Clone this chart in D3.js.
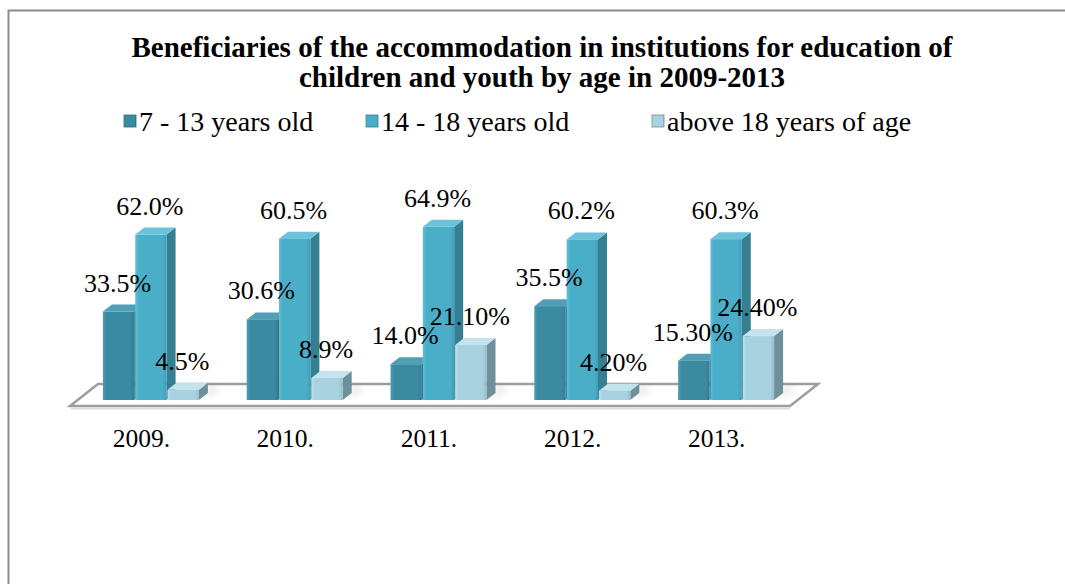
<!DOCTYPE html>
<html>
<head>
<meta charset="utf-8">
<script src="https://cdn.jsdelivr.net/npm/d3@7"></script>
<style>
  html, body { margin: 0; padding: 0; background: #fff; }
  svg { display: block; }
</style>
</head>
<body>
<svg id="chart" width="1065" height="584"></svg>
<script>
// Chart data
const years = ["2009.", "2010.", "2011.", "2012.", "2013."];
const seriesNames = ["7 - 13 years old", "14 - 18 years old", "above 18 years of age"];
const age7to13 = [33.5, 30.6, 14.0, 35.5, 15.3];
const age14to18 = [62.0, 60.5, 64.9, 60.2, 60.3];
const above18 = [4.5, 8.9, 21.1, 4.2, 24.4];
const valueLabels = [
  ["33.5%", "30.6%", "14.0%", "35.5%", "15.30%"],
  ["62.0%", "60.5%", "64.9%", "60.2%", "60.3%"],
  ["4.5%", "8.9%", "21.10%", "4.20%", "24.40%"]
];
const titleLines = [
  "Beneficiaries of the accommodation in institutions for education of",
  "children and youth by age in 2009-2013"
];

const seriesValues = [age7to13, age14to18, above18];
const palette = [
  { front: "#3a8aa1", light: "#4f9db3", top: "#509fb5", side: "#2c6b7c" },
  { front: "#4aaec8", light: "#63bdd5", top: "#6cc3d9", side: "#357f93" },
  { front: "#a8d2df", light: "#bfe0ea", top: "#c4e4ed", side: "#6e909b" }
];
const FONT = "'Liberation Serif', 'Times New Roman', Times, serif";

const svg = d3.select("#chart");
const defs = svg.append("defs");

palette.forEach((c, i) => {
  const g = defs.append("linearGradient").attr("id", "front" + i)
    .attr("x1", "0").attr("x2", "1").attr("y1", "0").attr("y2", "0");
  g.append("stop").attr("offset", "0").attr("stop-color", c.light);
  g.append("stop").attr("offset", "0.12").attr("stop-color", c.front);
  g.append("stop").attr("offset", "0.88").attr("stop-color", c.front);
  g.append("stop").attr("offset", "1").attr("stop-color", d3.color(c.front).darker(0.3));
});
defs.append("filter").attr("id", "soft").attr("x", "-50%").attr("y", "-50%")
  .attr("width", "200%").attr("height", "200%")
  .append("feGaussianBlur").attr("stdDeviation", 4);

// Outer frame
svg.append("rect")
  .attr("x", 8.5).attr("y", 10.5).attr("width", 1100).attr("height", 620)
  .attr("fill", "#fff").attr("stroke", "#8c8c8c").attr("stroke-width", 2);

// Title
svg.append("g").selectAll("text").data(titleLines).join("text")
  .attr("x", 542).attr("y", (d, i) => 57 + i * 30)
  .attr("text-anchor", "middle")
  .attr("font-family", FONT)
  .attr("font-size", 29).attr("font-weight", "bold")
  .text(d => d);

// Legend
const legendX = [124, 366, 652];
const legend = svg.append("g").selectAll("g").data(seriesNames).join("g")
  .attr("transform", (d, i) => `translate(${legendX[i]},0)`);
legend.append("rect")
  .attr("x", 0).attr("y", 115).attr("width", 12).attr("height", 12)
  .attr("fill", (d, i) => `url(#front${i})`)
  .attr("stroke", (d, i) => palette[i].side).attr("stroke-width", 0.8);
legend.append("text")
  .attr("x", 15).attr("y", 131)
  .attr("font-family", FONT)
  .attr("font-size", 28)
  .text(d => d);

// Scales
const depthX = 9, depthY = 7;
const baseY = 400;
const x = d3.scaleBand().domain(years).range([79, 798]);
const xs = d3.scaleBand().domain(d3.range(3)).range([-48, 48]).paddingInner(0.03);
const y = d3.scaleLinear().domain([0, 70]).range([402, 213]);

// Floor
const floorL = x.range()[0] - 9, floorR = x.range()[1] - 8;
const floorDX = 28, floorDY = 22;
const floorFront = 406;
svg.append("polygon")
  .attr("points", [
    [floorL, floorFront], [floorR, floorFront],
    [floorR + floorDX, floorFront - floorDY], [floorL + floorDX, floorFront - floorDY]
  ].map(p => p.join(",")).join(" "))
  .attr("fill", "#fff").attr("stroke", "#9d9d9d").attr("stroke-width", 2.5)
  .attr("stroke-linejoin", "miter");
svg.append("line")
  .attr("x1", floorL + 1).attr("x2", floorR).attr("y1", floorFront + 2.5).attr("y2", floorFront + 2.5)
  .attr("stroke", "#dcdcdc").attr("stroke-width", 2);

// Flattened bar records
const bars = [];
years.forEach((yr, gi) => {
  seriesValues.forEach((vals, si) => {
    bars.push({ year: yr, gi, si, value: vals[gi], label: valueLabels[si][gi] });
  });
});
const bx = d => x(d.year) + x.bandwidth() / 2 + xs(d.si);
const bw = xs.bandwidth();

// Soft floor shadows behind each bar
svg.append("g").selectAll("polygon").data(bars).join("polygon")
  .attr("points", d => {
    const x0 = bx(d) + bw - 2;
    return [[x0, baseY - 2], [x0 + depthX + 14, baseY - 10], [x0 + depthX + 6, baseY - depthY - 6], [x0 + depthX, baseY - depthY]]
      .map(p => p.join(",")).join(" ");
  })
  .attr("fill", "#000").attr("opacity", 0.18).attr("filter", "url(#soft)");

// 3D bars, drawn left to right so nearer faces overlap correctly
const barG = svg.append("g").selectAll("g").data(bars).join("g");
barG.append("polygon") // side face
  .attr("points", d => {
    const x1 = bx(d) + bw, t = y(d.value);
    return [[x1, t], [x1 + depthX, t - depthY], [x1 + depthX, baseY - depthY], [x1, baseY]]
      .map(p => p.join(",")).join(" ");
  })
  .attr("fill", d => palette[d.si].side);
barG.append("polygon") // top face
  .attr("points", d => {
    const x0 = bx(d), t = y(d.value);
    return [[x0, t], [x0 + depthX, t - depthY], [x0 + bw + depthX, t - depthY], [x0 + bw, t]]
      .map(p => p.join(",")).join(" ");
  })
  .attr("fill", d => palette[d.si].top);
barG.append("rect") // front face
  .attr("x", d => bx(d)).attr("y", d => y(d.value))
  .attr("width", bw).attr("height", d => baseY - y(d.value))
  .attr("fill", d => `url(#front${d.si})`);

// Value labels
svg.append("g").selectAll("text").data(bars).join("text")
  .attr("x", d => bx(d) + bw / 2 - 1)
  .attr("y", d => y(d.value) - 20)
  .attr("text-anchor", "middle")
  .attr("font-family", FONT)
  .attr("font-size", 26)
  .text(d => d.label);

// Category axis labels
svg.append("g").selectAll("text").data(years).join("text")
  .attr("x", d => x(d) + x.bandwidth() / 2 - 9.5)
  .attr("y", 447)
  .attr("text-anchor", "middle")
  .attr("font-family", FONT)
  .attr("font-size", 25.5)
  .text(d => d);
</script>
</body>
</html>
